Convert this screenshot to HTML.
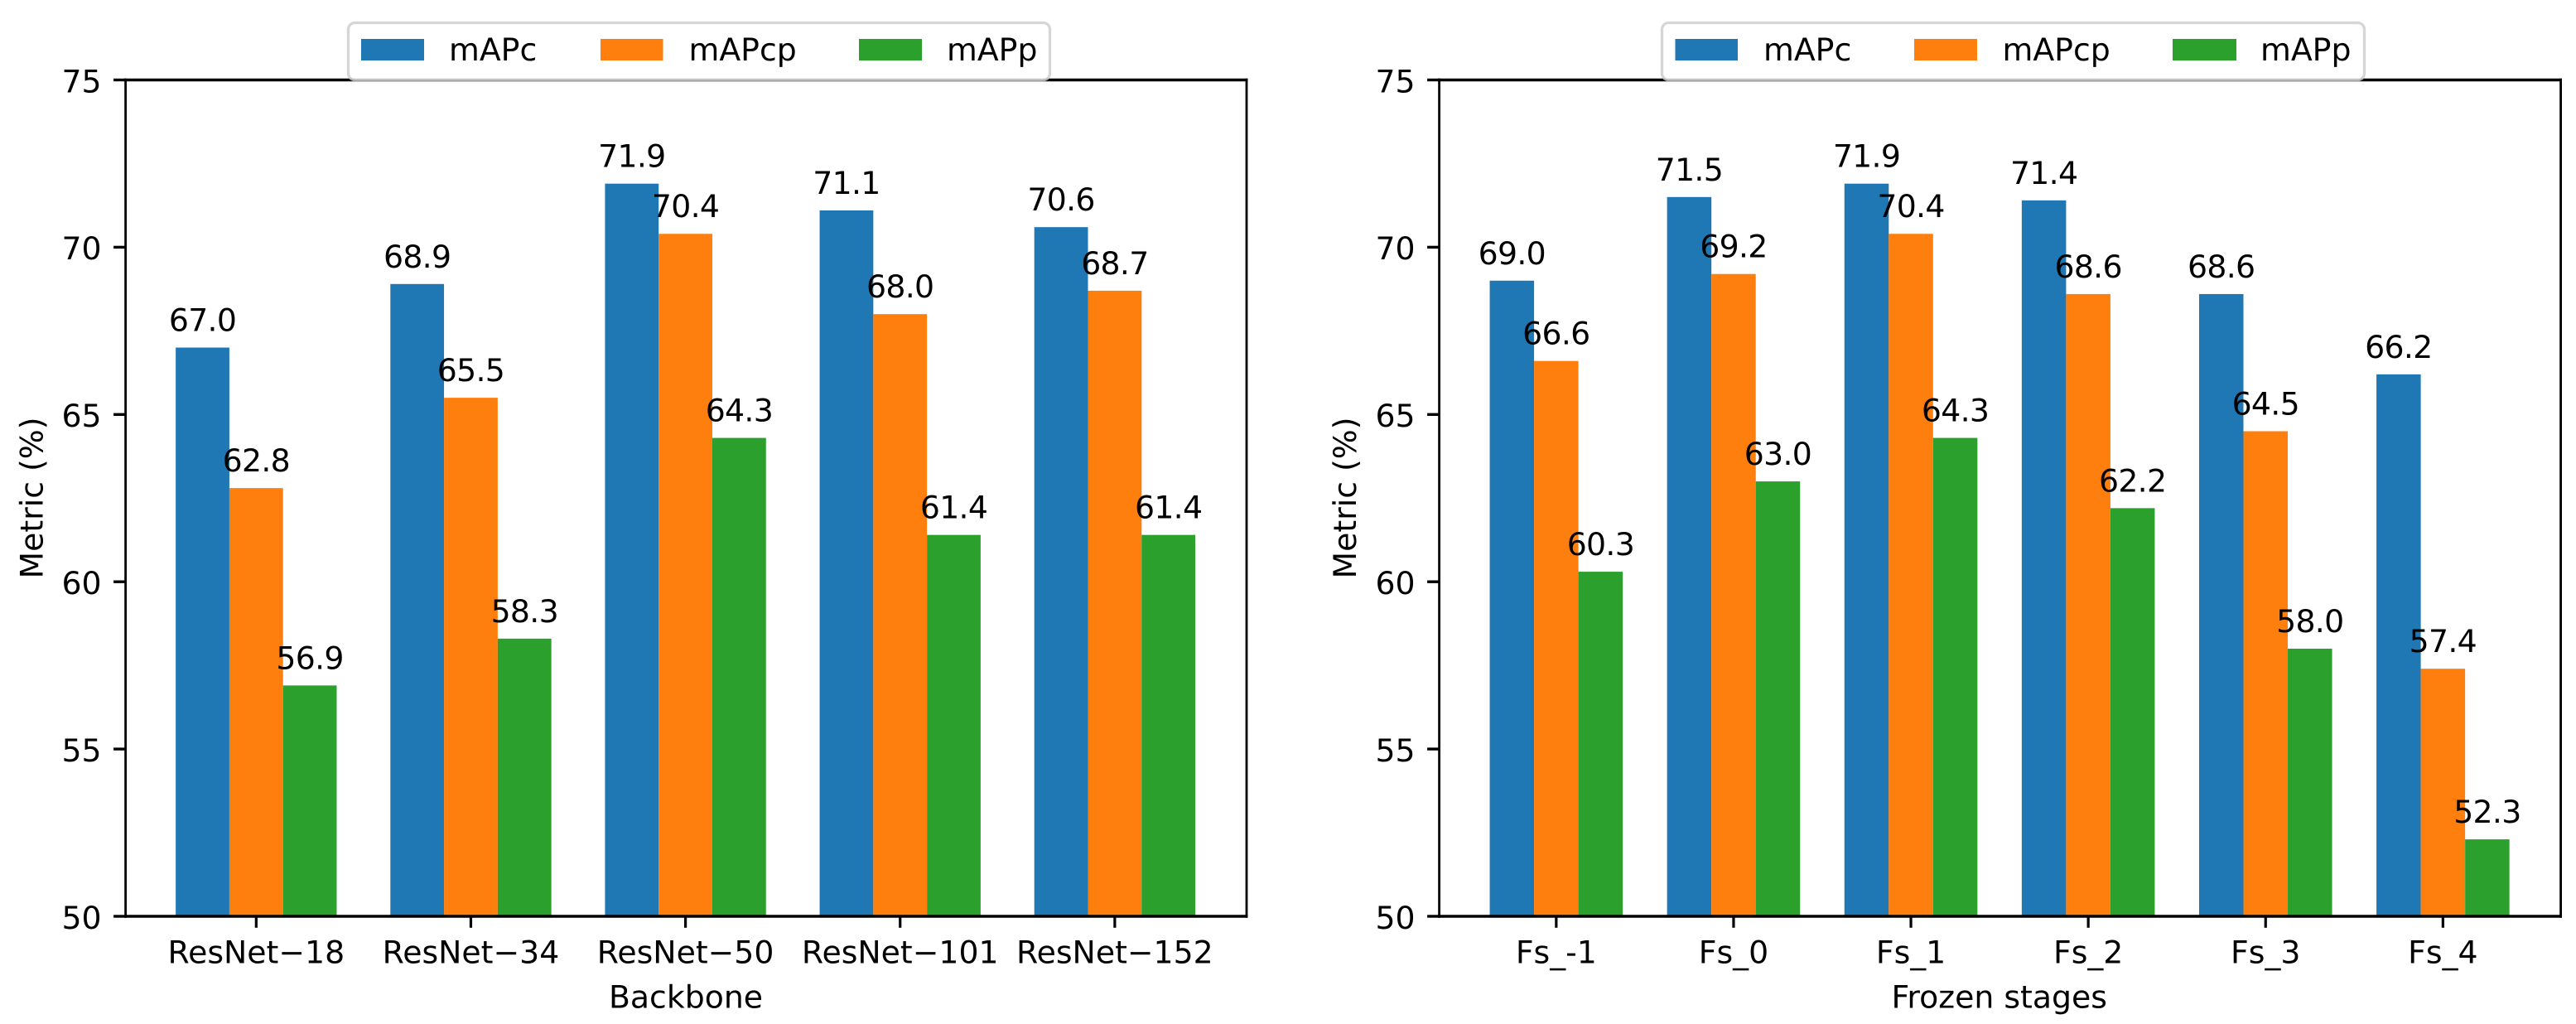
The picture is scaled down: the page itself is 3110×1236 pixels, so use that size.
<!DOCTYPE html>
<html lang="en">
<head>
<meta charset="utf-8">
<title>mAP by backbone and frozen stages</title>
<style>
html,body{margin:0;padding:0;background:#fff;width:3110px;height:1236px;overflow:hidden}
svg{display:block}
text{font-family:"DejaVu Sans","Liberation Sans",sans-serif;font-size:37.8px;fill:#000;text-rendering:geometricPrecision}
.value-label{letter-spacing:-0.7px}
</style>
</head>
<body>
<svg id="figure" xmlns="http://www.w3.org/2000/svg" width="3110" height="1236" viewBox="0 0 3110 1236">
  <rect x="0" y="0" width="3110" height="1236" fill="#fff"/>
  <g id="panel-left">
    <g id="left-bars"></g>
    <g id="left-axes"></g>
    <g id="left-values"></g>
    <text x="828" y="1216.5" text-anchor="middle">Backbone</text>
    <text transform="translate(51.5 601) rotate(-90)" text-anchor="middle">Metric (%)</text>
    <g>
      <rect x="420.5" y="27.5" width="847" height="69" rx="8" ry="8" fill="#fff" fill-opacity="0.8" stroke="#ccc" stroke-opacity="0.8" stroke-width="3.3"/>
      <rect x="436" y="47" width="76" height="26" fill="#1f77b4"/>
      <text x="542" y="73">mAPc</text>
      <rect x="725" y="47" width="75.5" height="26" fill="#ff7f0e"/>
      <text x="831.5" y="73">mAPcp</text>
      <rect x="1037" y="47" width="76" height="26" fill="#2ca02c"/>
      <text x="1143" y="73">mAPp</text>
    </g>
  </g>
  <g id="panel-right">
    <g id="right-bars"></g>
    <g id="right-axes"></g>
    <g id="right-values"></g>
    <text x="2413.7" y="1216.5" text-anchor="middle">Frozen stages</text>
    <text transform="translate(1637 601) rotate(-90)" text-anchor="middle">Metric (%)</text>
    <g>
      <rect x="2006.5" y="27.5" width="848" height="69" rx="8" ry="8" fill="#fff" fill-opacity="0.8" stroke="#ccc" stroke-opacity="0.8" stroke-width="3.3"/>
      <rect x="2022.5" y="47" width="75.5" height="26" fill="#1f77b4"/>
      <text x="2129" y="73">mAPc</text>
      <rect x="2311" y="47" width="76" height="26" fill="#ff7f0e"/>
      <text x="2417.5" y="73">mAPcp</text>
      <rect x="2623" y="47" width="77" height="26" fill="#2ca02c"/>
      <text x="2729" y="73">mAPp</text>
    </g>
  </g>
</svg>
<script>
var yTickValues = [50, 55, 60, 65, 70, 75];
var seriesNames = ['mapc', 'mapcp', 'mapp'];
var seriesColors = ['#1f77b4', '#ff7f0e', '#2ca02c'];

var backboneCategories = ['ResNet\u221218', 'ResNet\u221234', 'ResNet\u221250', 'ResNet\u2212101', 'ResNet\u2212152'];
var backboneMapc = [67.0, 68.9, 71.9, 71.1, 70.6];
var backboneMapcp = [62.8, 65.5, 70.4, 68.0, 68.7];
var backboneMapp = [56.9, 58.3, 64.3, 61.4, 61.4];

var frozenCategories = ['Fs_-1', 'Fs_0', 'Fs_1', 'Fs_2', 'Fs_3', 'Fs_4'];
var frozenMapc = [69.0, 71.5, 71.9, 71.4, 68.6, 66.2];
var frozenMapcp = [66.6, 69.2, 70.4, 68.6, 64.5, 57.4];
var frozenMapp = [60.3, 63.0, 64.3, 62.2, 58.0, 52.3];

var SVG_NS = 'http://www.w3.org/2000/svg';
var BAR_WIDTH = 0.25;
var X_MARGIN = 0.05;

function make(tag, parent, attrs, content) {
  var node = document.createElementNS(SVG_NS, tag);
  Object.keys(attrs).forEach(function (key) {
    node.setAttribute(key, attrs[key]);
  });
  if (content !== undefined) {
    node.textContent = content;
  }
  parent.appendChild(node);
  return node;
}

function drawPanel(prefix, categories, seriesList, left, right, spineLeftX, spineRightX) {
  var top = 96.5;
  var bottom = 1106;
  var yMin = yTickValues[0];
  var yMax = yTickValues[yTickValues.length - 1];
  var span = categories.length - 1 + 3 * BAR_WIDTH;
  var xMin = -1.5 * BAR_WIDTH - X_MARGIN * span;
  var xMax = categories.length - 1 + 1.5 * BAR_WIDTH + X_MARGIN * span;

  function xScale(v) {
    return left + (v - xMin) / (xMax - xMin) * (right - left);
  }
  function yScale(v) {
    return top + (yMax - v) / (yMax - yMin) * (bottom - top);
  }

  var bars = document.getElementById(prefix + '-bars');
  var axes = document.getElementById(prefix + '-axes');
  var values = document.getElementById(prefix + '-values');

  seriesList.forEach(function (series, s) {
    series.forEach(function (value, i) {
      var center = i + (s - 1) * BAR_WIDTH;
      var x0 = xScale(center - BAR_WIDTH / 2);
      var x1 = xScale(center + BAR_WIDTH / 2);
      var bar = make('rect', bars, {
        x: x0,
        y: yScale(value),
        width: x1 - x0,
        height: yScale(yMin) - yScale(value),
        fill: seriesColors[s]
      });
      
      
      var label = make('text', values, {
        x: xScale(center),
        y: yScale(value) - 20,
        'text-anchor': 'middle',
        'class': 'value-label'
      }, value.toFixed(1));
      
      
    });
  });

  var spineLeft = make('line', axes, { x1: spineLeftX, x2: spineLeftX, y1: top - 1.7, y2: bottom + 1.7, stroke: '#000', 'stroke-width': 2.8 });
  
  
  var spineRight = make('line', axes, { x1: spineRightX, x2: spineRightX, y1: top - 1.7, y2: bottom + 1.7, stroke: '#000', 'stroke-width': 2.8 });
  
  
  var spineTop = make('line', axes, { x1: spineLeftX - 1.4, x2: spineRightX + 1.4, y1: top, y2: top, stroke: '#000', 'stroke-width': 3.4 });
  
  
  var spineBottom = make('line', axes, { x1: spineLeftX - 1.4, x2: spineRightX + 1.4, y1: bottom, y2: bottom, stroke: '#000', 'stroke-width': 3.4 });
  
  

  yTickValues.forEach(function (tick) {
    var y = yScale(tick);
    var mark = make('line', axes, { x1: spineLeftX - 14.5, x2: spineLeftX, y1: y, y2: y, stroke: '#000', 'stroke-width': 3.4 });
    
    
    var text = make('text', axes, { x: spineLeftX - 29, y: y + 14.8, 'text-anchor': 'end' }, String(tick));
    
    
  });

  categories.forEach(function (category, i) {
    var x = xScale(i);
    var mark = make('line', axes, { x1: x, x2: x, y1: bottom, y2: bottom + 13.8, stroke: '#000', 'stroke-width': 3.2 });
    
    
    var text = make('text', axes, { x: x, y: 1162.5, 'text-anchor': 'middle' }, category);
    
    
  });
}

drawPanel('left', backboneCategories, [backboneMapc, backboneMapcp, backboneMapp], 150.6, 1504.6, 151.6, 1505);
drawPanel('right', frozenCategories, [frozenMapc, frozenMapcp, frozenMapp], 1737, 3091.2, 1737.6, 3091.6);
</script>
</body>
</html>
